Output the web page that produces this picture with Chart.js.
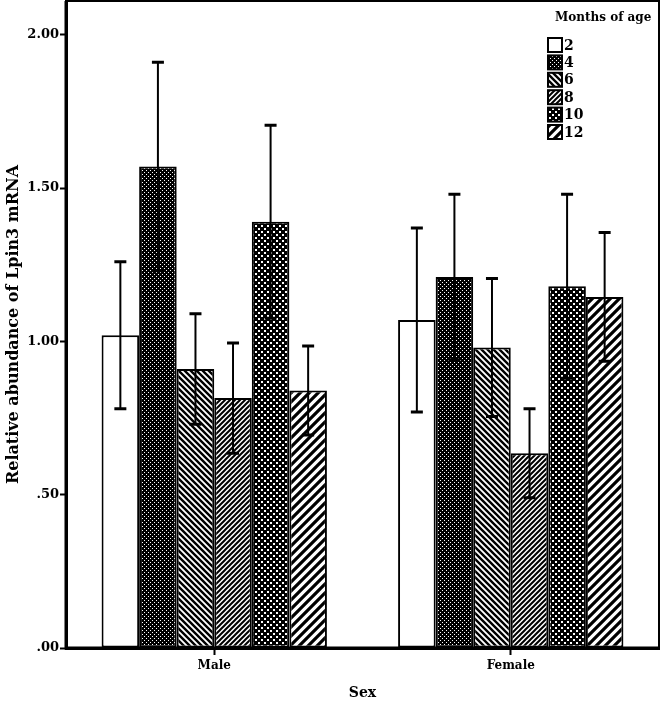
<!DOCTYPE html>
<html>
<head>
<meta charset="utf-8">
<script src="https://cdn.jsdelivr.net/npm/chart.js@4/dist/chart.umd.min.js"></script>
<style>
  body { margin: 0; background: #fff; }
  #wrap { width: 661px; height: 706px; }
</style>
</head>
<body>
<div id="wrap"><canvas id="bar-chart" width="661" height="706"></canvas></div>
<script>
const sexLabels = ["Male", "Female"];
const ageLabels = ["2", "4", "6", "8", "10", "12"];

// mean relative abundance, [Male, Female]
const age2 = [1.02, 1.07];
const age4 = [1.57, 1.21];
const age6 = [0.91, 0.98];
const age8 = [0.815, 0.635];
const age10 = [1.39, 1.18];
const age12 = [0.84, 1.145];

// error bar half widths, [Male, Female]
const err2 = [0.24, 0.30];
const err4 = [0.34, 0.27];
const err6 = [0.18, 0.225];
const err8 = [0.18, 0.145];
const err10 = [0.315, 0.30];
const err12 = [0.145, 0.21];

const yTicks = [0, 0.5, 1, 1.5, 2];

const serif = "'DejaVu Serif', 'Liberation Serif', serif";

// pattern helpers
function makeTile(size, draw) {
  const c = document.createElement("canvas");
  c.width = size;
  c.height = size;
  const g = c.getContext("2d");
  draw(g, size);
  return g.createPattern(c, "repeat");
}

function dots(size, dot, bg, fg) {
  return makeTile(size, (g, n) => {
    g.fillStyle = bg;
    g.fillRect(0, 0, n, n);
    g.fillStyle = fg;
    g.fillRect(0, 0, dot, dot);
    g.fillRect(n / 2, n / 2, dot, dot);
  });
}

function stripes(size, lw, dir) {
  return makeTile(size, (g, n) => {
    g.fillStyle = "#fff";
    g.fillRect(0, 0, n, n);
    g.strokeStyle = "#000";
    g.lineWidth = lw;
    g.beginPath();
    if (dir === "/") {
      g.moveTo(0, n); g.lineTo(n, 0);
      g.moveTo(-n, n); g.lineTo(n, -n);
      g.moveTo(0, 2 * n); g.lineTo(2 * n, 0);
    } else {
      g.moveTo(0, 0); g.lineTo(n, n);
      g.moveTo(-n, 0); g.lineTo(n, 2 * n);
      g.moveTo(0, -n); g.lineTo(2 * n, n);
    }
    g.stroke();
  });
}

const fills = [
  "#ffffff",
  dots(4, 1, "#000", "#fff"),
  stripes(6, 2.4, "\\"),
  stripes(5, 2, "/"),
  dots(6, 2, "#000", "#fff"),
  stripes(9, 3.2, "/"),
];

const means = [age2, age4, age6, age8, age10, age12];
const errs = [err2, err4, err6, err8, err10, err12];

const datasets = ageLabels.map((a, i) => ({
  label: a,
  data: means[i],
  errors: errs[i],
  backgroundColor: fills[i],
  borderColor: "#000",
  borderWidth: 2,
  borderSkipped: false,
  categoryPercentage: 0.76,
  barPercentage: 1.0,
}));

// error bars drawn on top of each bar
const errorBars = {
  id: "errorBars",
  afterDatasetsDraw(chart) {
    const ctx = chart.ctx;
    const y = chart.scales.y;
    ctx.save();
    ctx.strokeStyle = "#000";
    chart.data.datasets.forEach((ds, i) => {
      chart.getDatasetMeta(i).data.forEach((bar, j) => {
        const hi = y.getPixelForValue(ds.data[j] + ds.errors[j]);
        const lo = y.getPixelForValue(ds.data[j] - ds.errors[j]);
        ctx.lineWidth = 2;
        ctx.beginPath();
        ctx.moveTo(bar.x, hi);
        ctx.lineTo(bar.x, lo);
        ctx.stroke();
        ctx.lineWidth = 3;
        ctx.beginPath();
        ctx.moveTo(bar.x - 6, hi);
        ctx.lineTo(bar.x + 6, hi);
        ctx.moveTo(bar.x - 6, lo);
        ctx.lineTo(bar.x + 6, lo);
        ctx.stroke();
      });
    });
    ctx.restore();
  },
};

// frame round the plot and the legend in its top right corner
const frameLegend = {
  id: "frameLegend",
  afterDraw(chart) {
    const ctx = chart.ctx;
    const a = chart.chartArea;
    ctx.save();
    ctx.strokeStyle = "#000";
    ctx.lineWidth = 2;
    ctx.strokeRect(a.left, a.top, a.right - a.left, a.bottom - a.top);
    ctx.lineWidth = 3;
    ctx.beginPath();
    ctx.moveTo(a.left, a.top);
    ctx.lineTo(a.left, a.bottom);
    ctx.lineTo(a.right, a.bottom);
    ctx.stroke();

    ctx.fillStyle = "#000";
    ctx.font = "bold 12px " + serif;
    ctx.textBaseline = "middle";
    ctx.textAlign = "left";
    ctx.fillText("Months of age", 555, 18);

    const x0 = 548;
    chart.data.datasets.forEach((ds, i) => {
      const yc = 45 + i * 17.4;
      ctx.fillStyle = ds.backgroundColor;
      ctx.fillRect(x0, yc - 7, 14, 14);
      ctx.lineWidth = 2;
      ctx.strokeRect(x0, yc - 7, 14, 14);
      ctx.fillStyle = "#000";
      ctx.font = "bold 14px " + serif;
      ctx.fillText(ds.label, x0 + 16, yc + 1);
    });
    ctx.restore();
  },
};

new Chart(document.getElementById("bar-chart"), {
  type: "bar",
  data: {
    labels: sexLabels,
    datasets: datasets,
  },
  plugins: [errorBars, frameLegend],
  options: {
    responsive: false,
    animation: false,
    layout: { padding: { top: 1, right: 2, left: 0, bottom: 0 } },
    plugins: {
      legend: { display: false },
      tooltip: { enabled: false },
    },
    scales: {
      x: {
        afterFit(s) { s.height = 58; s.paddingLeft = 0; s.paddingRight = 0; },
        grid: {
          offset: false,
          drawOnChartArea: false,
          drawTicks: true,
          tickLength: 7,
          tickWidth: 2,
          color: "#000",
        },
        border: { display: true, color: "#000", width: 3 },
        ticks: {
          color: "#000",
          padding: 4,
          font: { family: serif, size: 12, weight: "bold" },
        },
        title: {
          display: true,
          text: "Sex",
          color: "#000",
          padding: { top: 4 },
          font: { family: serif, size: 14, weight: "bold" },
        },
      },
      y: {
        min: 0,
        max: 2.11,
        afterFit(s) { s.width = 66; s.paddingTop = 0; s.paddingBottom = 0; },
        afterBuildTicks(s) { s.ticks = yTicks.map(v => ({ value: v })); },
        grid: {
          drawOnChartArea: false,
          drawTicks: true,
          tickLength: 6,
          tickWidth: 2,
          color: "#000",
        },
        border: { display: true, color: "#000", width: 3 },
        ticks: {
          color: "#000",
          padding: 1,
          font: { family: serif, size: 13, weight: "bold" },
          callback: (v) => v.toFixed(2).replace(/^0/, ""),
        },
        title: {
          display: true,
          text: "Relative abundance of Lpin3 mRNA",
          color: "#000",
          padding: { bottom: 2 },
          font: { family: serif, size: 16, weight: "bold" },
        },
      },
    },
  },
});
</script>
</body>
</html>
